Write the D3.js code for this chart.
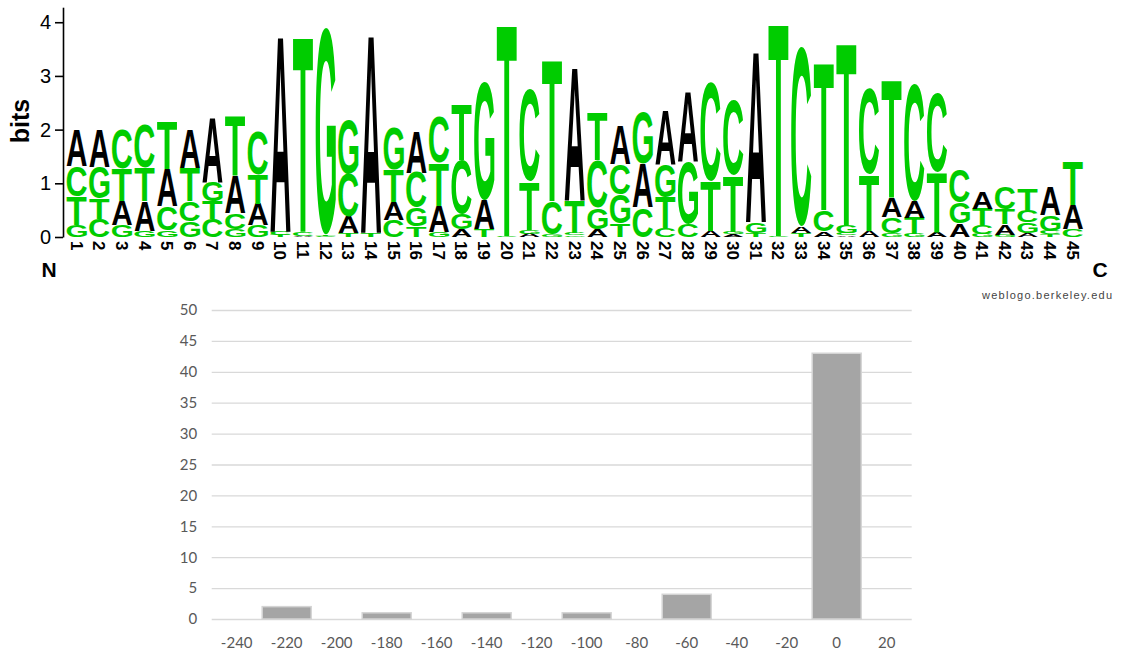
<!DOCTYPE html>
<html><head><meta charset="utf-8">
<script src="https://cdn.jsdelivr.net/npm/d3@7"></script>
<style>body{margin:0;background:#fff;} svg{display:block}</style>
</head><body>
<svg id="chart" width="1122" height="654"></svg>
<script>
// ---------- Sequence logo data (bits per letter at each position) ----------
const positions = ["1","2","3","4","5","6","7","8","9","10","11","12","13","14","15","16","17","18","19","20","21","22","23","24","25","26","27","28","29","30","31","32","33","34","35","36","37","38","39","40","41","42","43","44","45"];
const bitsA = [0.68,0.70,0.45,0.55,0.70,0.72,1.22,0.70,0.40,3.66,0.02,0.00,0.30,3.70,0.34,0.78,0.48,0.15,0.55,0.00,0.06,0.00,2.50,0.15,0.72,0.82,1.02,1.30,0.12,0.05,3.20,0.00,0.12,0.10,0.03,0.12,0.35,0.31,0.10,0.25,0.32,0.20,0.07,0.52,0.45];
const bitsC = [0.56,0.34,0.73,0.80,0.45,0.37,0.33,0.30,0.80,0.06,0.08,0.02,0.80,0.00,0.32,0.65,0.85,1.00,0.00,0.02,1.72,0.62,0.04,0.88,0.56,0.55,0.16,0.25,1.85,1.40,0.00,0.02,3.34,0.40,0.04,1.60,0.30,2.19,1.48,0.60,0.16,0.41,0.22,0.06,0.14];
const bitsG = [0.22,0.58,0.22,0.12,0.12,0.30,0.36,0.15,0.22,0.00,0.00,3.85,1.00,0.00,0.78,0.35,0.10,0.28,2.20,0.00,0.07,0.05,0.03,0.40,0.55,0.96,0.60,1.15,0.00,0.05,0.20,0.00,0.00,0.00,0.15,0.00,0.07,0.06,0.00,0.40,0.06,0.04,0.20,0.30,0.00];
const bitsT = [0.54,0.38,0.60,0.62,0.90,0.62,0.34,1.10,0.55,0.04,3.65,0.03,0.08,0.08,0.60,0.20,0.80,1.05,0.14,3.96,0.90,2.63,0.60,0.90,0.25,0.00,0.58,0.00,0.92,1.05,0.08,3.98,0.08,2.76,3.41,1.05,2.20,0.30,1.10,0.00,0.30,0.28,0.42,0.05,0.81];
const letters = ["A","C","G","T"];
const letterColors = {A:"#000000", C:"#00cc00", G:"#00cc00", T:"#00cc00"};
const bitTicks = [0,1,2,3,4];

// ---------- Bar chart data ----------
const offsets = ["-240","-220","-200","-180","-160","-140","-120","-100","-80","-60","-40","-20","0","20"];
const counts = [0,2,0,1,0,1,0,1,0,4,0,0,43,0];
const countTicks = [0,5,10,15,20,25,30,35,40,45,50];

const svg = d3.select("#chart");
svg.append("rect").attr("width",1122).attr("height",654).attr("fill","#fff");

// ================= LOGO =================
const x = d3.scaleBand().domain(positions).range([65.4, 1084.2]).padding(0);
const y = d3.scaleLinear().domain([0, 4.28]).range([237, 7.2]);
const letterW = 20.2;

const glyphFont = '"Liberation Sans", Arial, Helvetica, sans-serif';
const ctx = document.createElement("canvas").getContext("2d");
ctx.font = 'bold 100px ' + glyphFont;
const metrics = {};
letters.forEach(l => {
  const m = ctx.measureText(l);
  metrics[l] = {l: m.actualBoundingBoxLeft, r: m.actualBoundingBoxRight, a: m.actualBoundingBoxAscent, d: m.actualBoundingBoxDescent};
});

const bitsBy = {A: bitsA, C: bitsC, G: bitsG, T: bitsT};
const glyphs = [];
positions.forEach((p, i) => {
  const stack = letters.map(l => ({l, h: bitsBy[l][i], p}))
    .filter(d => d.h > 0)
    .sort((a, b) => a.h - b.h);
  let base = 0;
  stack.forEach(d => { d.y0 = base; d.y1 = base + d.h; base = d.y1; glyphs.push(d); });
});

const gLogo = svg.append("g");
gLogo.selectAll("text.glyph").data(glyphs).join("text")
  .attr("class","glyph")
  .attr("font-family", glyphFont)
  .attr("font-weight","bold")
  .attr("font-size", 100)
  .attr("fill", d => letterColors[d.l])
  .attr("transform", d => {
    const m = metrics[d.l];
    const top = y(d.y1), bottom = y(d.y0);
    const hpx = Math.max(bottom - top, 0.01);
    const x0 = x(d.p) + (x.bandwidth() - letterW) / 2;
    const sx = letterW / (m.l + m.r);
    const sy = hpx / (m.a + m.d);
    return `translate(${x0 + m.l * sx},${bottom - m.d * sy}) scale(${sx},${sy})`;
  })
  .text(d => d.l);

// y axis
const yAxis = d3.axisLeft(y).tickValues(bitTicks).tickSize(8).tickSizeOuter(0).tickPadding(4).tickFormat(d3.format("d"));
const gy = svg.append("g").attr("transform","translate(63,0)").call(yAxis);
gy.select(".domain").attr("stroke","#000").attr("stroke-width",1.6);
gy.selectAll(".tick line").attr("stroke","#000").attr("stroke-width",1.6);
gy.selectAll(".tick text").attr("font-family", glyphFont).attr("font-size",20).attr("fill","#000");

svg.append("text")
  .attr("transform","translate(29,121) rotate(-90)")
  .attr("text-anchor","middle")
  .attr("font-family", glyphFont).attr("font-weight","bold").attr("font-size",25)
  .text("bits");

// position labels
svg.append("g").selectAll("text").data(positions).join("text")
  .attr("transform", d => `translate(${x(d) + x.bandwidth()/2},241) rotate(90)`)
  .attr("dy","0.36em")
  .attr("font-family", glyphFont).attr("font-weight","bold").attr("font-size",17)
  .text(d => d);

svg.append("text").attr("x",49).attr("y",277).attr("text-anchor","middle")
  .attr("font-family", glyphFont).attr("font-weight","bold").attr("font-size",21).text("N");
svg.append("text").attr("x",1100).attr("y",277).attr("text-anchor","middle")
  .attr("font-family", glyphFont).attr("font-weight","bold").attr("font-size",21).text("C");
svg.append("text").attr("x",982).attr("y",299)
  .attr("font-family", glyphFont).attr("font-size",11).attr("fill","#444")
  .attr("textLength",130).attr("lengthAdjust","spacing")
  .text("weblogo.berkeley.edu");

// ================= BAR CHART =================
const barFont = 'Lato, "Open Sans", sans-serif';
const xb = d3.scaleBand().domain(offsets).range([211.7, 911.7]).padding(0);
const yb = d3.scaleLinear().domain([0, 50]).range([619, 310]);

const gyb = svg.append("g").attr("transform","translate(211.7,0)")
  .call(d3.axisLeft(yb).tickValues(countTicks).tickSize(-700).tickPadding(14.5));
gyb.select(".domain").remove();
gyb.selectAll(".tick line").attr("stroke","#d9d9d9").attr("stroke-width",1.3);
gyb.selectAll(".tick text").attr("font-family", barFont).attr("font-size",15).attr("fill","#595959");

svg.append("g").selectAll("rect").data(offsets.map((o,i)=>({o, v: counts[i]})).filter(d=>d.v>0)).join("rect")
  .attr("x", d => xb(d.o) + 0.5)
  .attr("width", xb.bandwidth() - 1)
  .attr("y", d => yb(d.v))
  .attr("height", d => yb(0) - yb(d.v))
  .attr("fill","#a5a5a5")
  .attr("stroke","#d4d4d4")
  .attr("stroke-width",1.5);

const gxb = svg.append("g").attr("transform","translate(0,619)")
  .call(d3.axisBottom(xb).tickSize(0).tickPadding(18));
gxb.select(".domain").remove();
gxb.selectAll(".tick text").attr("font-family", barFont).attr("font-size",15).attr("fill","#595959");
</script>
</body></html>
